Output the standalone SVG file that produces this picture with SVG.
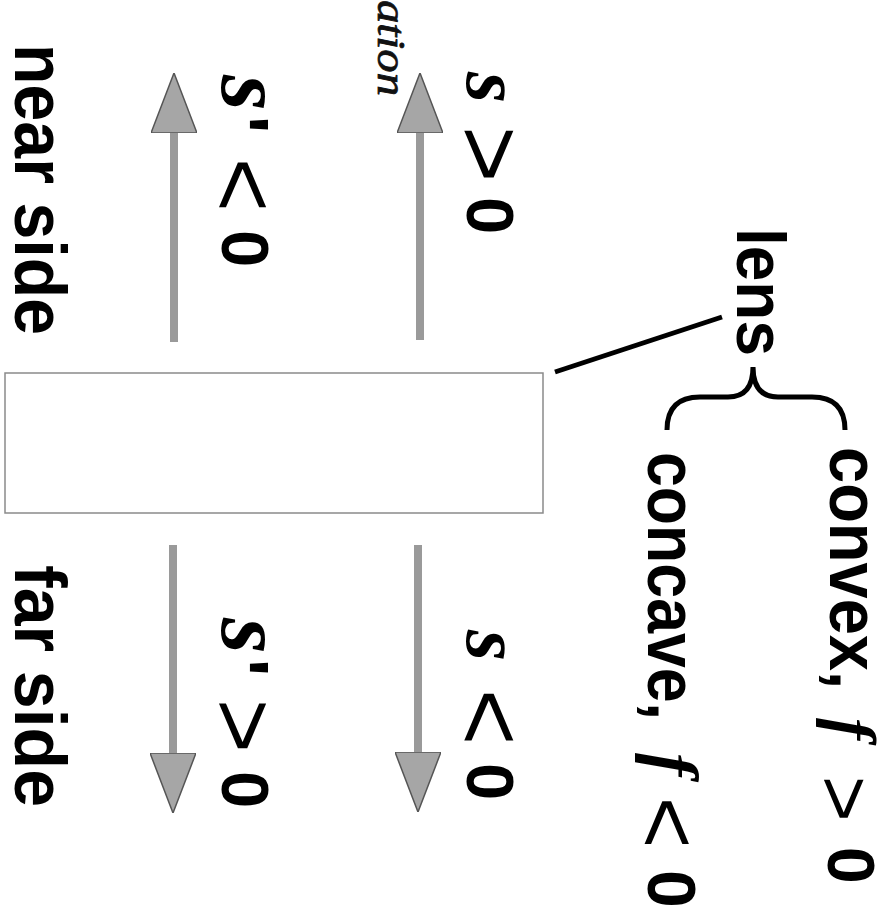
<svg xmlns="http://www.w3.org/2000/svg" width="892" height="918" viewBox="0 0 892 918">
<style>
.b{font-family:"Liberation Sans",Arial,sans-serif;font-weight:bold;fill:#000}
.m{font-family:"Liberation Serif","Times New Roman",serif;font-weight:bold;font-style:italic;fill:#000}
.r{font-family:"Liberation Sans",Arial,sans-serif;font-weight:normal;fill:#000}
.hw{font-family:"Liberation Serif",serif;font-style:italic;fill:#111;stroke:#111;stroke-width:0.8}
.shaft{stroke:#9a9a9a;stroke-width:8;fill:none;marker-end:url(#ah)}
</style>
<defs>
<marker id="ah" viewBox="0 0 60 46" refX="0" refY="23" markerWidth="60" markerHeight="46" markerUnits="userSpaceOnUse" orient="auto">
<path d="M0,0 L60,23 L0,46 Z" fill="#a6a6a6" stroke="#555" stroke-width="1.5"/>
</marker>
</defs>
<rect width="892" height="918" fill="#fff"/>

<g id="lens-box">
<rect x="5" y="373" width="538" height="140" fill="#fff" stroke="#8a8a8a" stroke-width="1.5"/>
</g>

<g id="connectors">
<line class="shaft" x1="174" y1="342" x2="174" y2="133"/>
<line class="shaft" x1="420" y1="340" x2="420" y2="133"/>
<line class="shaft" x1="173" y1="545" x2="173" y2="753"/>
<line class="shaft" x1="418" y1="545" x2="418" y2="752"/>
<line x1="555" y1="372" x2="722" y2="317" stroke="#000" stroke-width="5"/>
<path d="M667,430 C667,408 678,397 700,397 L728,397 C745,397 753,387 753,367 C753,387 761,397 778,397 L812,397 C834,397 845,408 845,430" fill="none" stroke="#000" stroke-width="5"/>
</g>

<g id="near-side">
<text class="b" transform="rotate(90)" x="44" y="-15" font-size="72" textLength="291" lengthAdjust="spacingAndGlyphs">near side</text>
</g>
<g id="far-side">
<text class="b" transform="rotate(90)" x="565" y="-15" font-size="72" textLength="242" lengthAdjust="spacingAndGlyphs">far side</text>
</g>

<g id="s-prime-lt-0">
<text transform="rotate(90)"><tspan class="m" x="75" y="-222" font-size="92">s</tspan><tspan class="b" x="116" y="-218" font-size="72">'</tspan><tspan class="r" x="158" y="-212" font-size="92">&lt;</tspan><tspan class="b" x="230" y="-222" font-size="67">0</tspan></text>
</g>
<g id="s-gt-0">
<text transform="rotate(90)"><tspan class="m" x="72" y="-467" font-size="80">s</tspan><tspan class="r" x="126" y="-457" font-size="96">&gt;</tspan><tspan class="b" x="197" y="-467" font-size="67">0</tspan></text>
</g>
<g id="s-prime-gt-0">
<text transform="rotate(90)"><tspan class="m" x="618" y="-222" font-size="92">s</tspan><tspan class="b" x="659" y="-218" font-size="72">'</tspan><tspan class="r" x="699" y="-212" font-size="92">&gt;</tspan><tspan class="b" x="771" y="-222" font-size="67">0</tspan></text>
</g>
<g id="s-lt-0">
<text transform="rotate(90)"><tspan class="m" x="630" y="-467" font-size="80">s</tspan><tspan class="r" x="689" y="-457" font-size="96">&lt;</tspan><tspan class="b" x="763" y="-467" font-size="67">0</tspan></text>
</g>

<g id="lens-label">
<text class="b" transform="rotate(90)" x="228" y="-737" font-size="68" textLength="128" lengthAdjust="spacingAndGlyphs">lens</text>
</g>
<g id="convex">
<text transform="rotate(90)"><tspan class="b" x="447" y="-830" font-size="70" textLength="242" lengthAdjust="spacingAndGlyphs">convex,</tspan><tspan class="m" x="718" y="-830" font-size="66">f</tspan><tspan class="r" x="776" y="-818" font-size="78">&gt;</tspan><tspan class="b" x="847" y="-828" font-size="66">0</tspan></text>
</g>
<g id="concave">
<text transform="rotate(90)"><tspan class="b" x="452" y="-648" font-size="70" textLength="268" lengthAdjust="spacingAndGlyphs">concave,</tspan><tspan class="m" x="753" y="-650" font-size="70">f</tspan><tspan class="r" x="797" y="-638" font-size="88">&lt;</tspan><tspan class="b" x="870" y="-648" font-size="68">0</tspan></text>
</g>

<g id="handwriting">
<text class="hw" transform="rotate(90)" x="0" y="-378" font-size="40" textLength="96" lengthAdjust="spacingAndGlyphs">ation</text>
</g>
</svg>
